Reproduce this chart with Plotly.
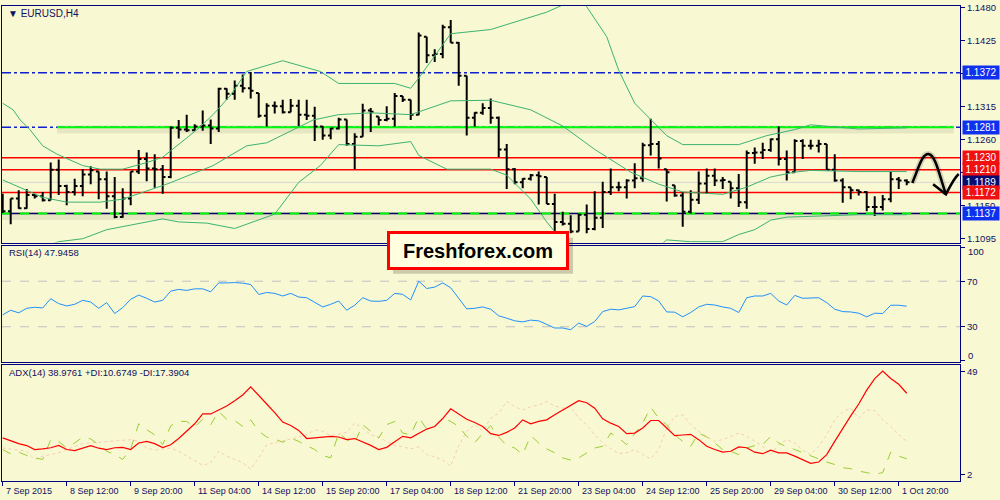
import plotly.graph_objects as go

# ---------------- DATA ----------------
bars = list(range(114))  # H4 bars, 7 Sep 2015 04:00 ... 2 Oct 2015 00:00

opens = [1.1165, 1.1141, 1.1162, 1.1146, 1.1168, 1.1166, 1.1159, 1.1210, 1.1183, 1.1173,
         1.1183, 1.1202, 1.1207, 1.1194, 1.1166, 1.1131, 1.1162, 1.1207, 1.1228, 1.1212,
         1.1211, 1.1198, 1.1280, 1.1277, 1.1276, 1.1282, 1.1284, 1.1279, 1.1345, 1.1337,
         1.1350, 1.1346, 1.1338, 1.1300, 1.1317, 1.1316, 1.1306, 1.1317, 1.1302, 1.1300,
         1.1282, 1.1267, 1.1279, 1.1294, 1.1253, 1.1265, 1.1309, 1.1299, 1.1293, 1.1295,
         1.1333, 1.1327, 1.1302, 1.1432, 1.1401, 1.1403, 1.1448, 1.1422, 1.1367, 1.1297,
         1.1305, 1.1313, 1.1297, 1.1244, 1.1211, 1.1189, 1.1195, 1.1201, 1.1198, 1.1153,
         1.1123, 1.1120, 1.1107, 1.1135, 1.1111, 1.1130, 1.1173, 1.1181, 1.1181, 1.1192,
         1.1196, 1.1251, 1.1253, 1.1211, 1.1184, 1.1167, 1.1140, 1.1160, 1.1187, 1.1200,
         1.1192, 1.1190, 1.1179, 1.1156, 1.1238, 1.1239, 1.1243, 1.1261, 1.1228, 1.1206,
         1.1258, 1.1250, 1.1250, 1.1253, 1.1210, 1.1192, 1.1181, 1.1176, 1.1173, 1.1148,
         1.1148, 1.1161, 1.1194, 1.1192]
highs = [1.1170, 1.1162, 1.1176, 1.1178, 1.1170, 1.1173, 1.1222, 1.1227, 1.1185, 1.1195,
         1.1211, 1.1216, 1.1207, 1.1207, 1.1198, 1.1179, 1.1207, 1.1243, 1.1239, 1.1236,
         1.1218, 1.1282, 1.1293, 1.1302, 1.1286, 1.1309, 1.1294, 1.1347, 1.1346, 1.1359,
         1.1369, 1.1373, 1.1338, 1.1321, 1.1324, 1.1327, 1.1328, 1.1327, 1.1327, 1.1315,
         1.1283, 1.1280, 1.1297, 1.1294, 1.1271, 1.1320, 1.1313, 1.1299, 1.1316, 1.1338,
         1.1333, 1.1327, 1.1439, 1.1432, 1.1411, 1.1452, 1.1460, 1.1423, 1.1367, 1.1306,
         1.1321, 1.1329, 1.1299, 1.1253, 1.1213, 1.1196, 1.1203, 1.1207, 1.1198, 1.1170,
         1.1140, 1.1134, 1.1137, 1.1152, 1.1174, 1.1190, 1.1212, 1.1190, 1.1194, 1.1221,
         1.1255, 1.1295, 1.1258, 1.1211, 1.1184, 1.1173, 1.1176, 1.1207, 1.1212, 1.1212,
         1.1198, 1.1190, 1.1203, 1.1242, 1.1247, 1.1255, 1.1262, 1.1282, 1.1242, 1.1261,
         1.1261, 1.1260, 1.1260, 1.1253, 1.1236, 1.1196, 1.1181, 1.1177, 1.1174, 1.1166,
         1.1168, 1.1207, 1.1198, 1.1194]
lows = [1.1138, 1.1119, 1.1145, 1.1145, 1.1162, 1.1157, 1.1159, 1.1168, 1.1151, 1.1167,
        1.1166, 1.1186, 1.1161, 1.1145, 1.1129, 1.1130, 1.1151, 1.1203, 1.1191, 1.1180,
        1.1170, 1.1196, 1.1262, 1.1273, 1.1275, 1.1275, 1.1253, 1.1273, 1.1327, 1.1327,
        1.1339, 1.1329, 1.1297, 1.1282, 1.1304, 1.1304, 1.1306, 1.1283, 1.1293, 1.1258,
        1.1260, 1.1261, 1.1277, 1.1250, 1.1211, 1.1265, 1.1273, 1.1284, 1.1291, 1.1282,
        1.1323, 1.1293, 1.1301, 1.1388, 1.1390, 1.1396, 1.1422, 1.1350, 1.1267, 1.1282,
        1.1302, 1.1287, 1.1231, 1.1178, 1.1186, 1.1179, 1.1192, 1.1152, 1.1153, 1.1107,
        1.1117, 1.1104, 1.1107, 1.1104, 1.1109, 1.1113, 1.1168, 1.1174, 1.1162, 1.1179,
        1.1190, 1.1234, 1.1212, 1.1157, 1.1165, 1.1115, 1.1137, 1.1153, 1.1170, 1.1183,
        1.1178, 1.1162, 1.1148, 1.1145, 1.1220, 1.1228, 1.1240, 1.1217, 1.1192, 1.1206,
        1.1228, 1.1244, 1.1239, 1.1210, 1.1190, 1.1155, 1.1161, 1.1167, 1.1141, 1.1133,
        1.1142, 1.1156, 1.1178, 1.1184]
closes = [1.1141, 1.1162, 1.1146, 1.1168, 1.1166, 1.1159, 1.1210, 1.1183, 1.1173, 1.1183,
          1.1202, 1.1209, 1.1194, 1.1166, 1.1131, 1.1162, 1.1207, 1.1228, 1.1212, 1.1211,
          1.1198, 1.1280, 1.1277, 1.1276, 1.1282, 1.1284, 1.1279, 1.1345, 1.1337, 1.1350,
          1.1346, 1.1342, 1.1300, 1.1317, 1.1316, 1.1306, 1.1317, 1.1302, 1.1300, 1.1282,
          1.1267, 1.1279, 1.1294, 1.1253, 1.1265, 1.1309, 1.1307, 1.1293, 1.1295, 1.1333,
          1.1327, 1.1302, 1.1434, 1.1401, 1.1403, 1.1448, 1.1422, 1.1367, 1.1297, 1.1305,
          1.1313, 1.1297, 1.1244, 1.1211, 1.1189, 1.1195, 1.1201, 1.1199, 1.1153, 1.1123,
          1.1120, 1.1107, 1.1135, 1.1111, 1.1130, 1.1173, 1.1181, 1.1181, 1.1192, 1.1196,
          1.1251, 1.1253, 1.1229, 1.1206, 1.1167, 1.1140, 1.1160, 1.1187, 1.1200, 1.1192,
          1.1193, 1.1179, 1.1156, 1.1238, 1.1239, 1.1243, 1.1261, 1.1228, 1.1206, 1.1258,
          1.1250, 1.1250, 1.1253, 1.1210, 1.1192, 1.1181, 1.1176, 1.1173, 1.1148, 1.1148,
          1.1161, 1.1194, 1.1192, 1.1189]

# Bollinger band lines read at sample bars
bb_upper_x = [0, 1.3, 2.2, 3.4, 5, 6.8, 10, 12.2, 15, 18, 20, 22.2, 24.3, 26.3, 28.4, 30.5, 35, 39.7, 42, 49,
              51, 52, 56, 61, 65.5, 68, 72, 73, 75.5, 77, 79, 81.5, 83, 85, 87, 92, 95.5, 99, 101, 103, 107, 113]
bb_upper = [1.1321, 1.1310, 1.1293, 1.1277, 1.1250, 1.1236, 1.1217, 1.1211, 1.1211, 1.1222, 1.1231, 1.1255,
            1.1277, 1.1302, 1.1333, 1.1374, 1.1392, 1.1374, 1.1354, 1.1354, 1.1346, 1.1363, 1.1437, 1.1444,
            1.1462, 1.1473, 1.1497, 1.1482, 1.1432, 1.1376, 1.1321, 1.1288, 1.1267, 1.1252, 1.1252, 1.1252,
            1.1267, 1.1277, 1.1285, 1.1283, 1.1278, 1.1280]
bb_mid_x = [0, 5, 8, 12.2, 15, 20.5, 26.3, 30.5, 33, 38.8, 42, 46, 51, 56, 61, 66, 70, 74, 78.5, 82, 85,
            90, 93, 96, 99, 101, 107, 113]
bb_mid = [1.1193, 1.1164, 1.1156, 1.1156, 1.1161, 1.1186, 1.1217, 1.1250, 1.1255, 1.1293, 1.1302, 1.1305,
          1.1302, 1.1325, 1.1326, 1.1310, 1.1283, 1.1244, 1.1206, 1.1186, 1.1173, 1.1169, 1.1181, 1.1198,
          1.1206, 1.1209, 1.1207, 1.1207]
bb_lower_x = [0, 7, 10, 13, 20, 22, 25.5, 29, 34, 37, 39.7, 42, 47, 51, 52, 55.5, 61, 63, 66, 68, 69, 72,
              76, 80, 83, 86, 90, 92, 94, 96, 98, 107, 113]
bb_lower = [1.1060, 1.1090, 1.1095, 1.1110, 1.1128, 1.1123, 1.1121, 1.1112, 1.1136, 1.1189, 1.1217, 1.1252,
            1.1250, 1.1257, 1.1234, 1.1211, 1.1211, 1.1201, 1.1161, 1.1123, 1.1107, 1.1070, 1.1040, 1.1060,
            1.1093, 1.1090, 1.1090, 1.1102, 1.1110, 1.1126, 1.1131, 1.1135, 1.1135]

rsi = [40.4, 44.5, 42.2, 46.2, 47.1, 46.5, 54.6, 50.3, 48.3, 49.7,
       53.2, 51.7, 46.2, 51.2, 41.6, 46.8, 54.1, 57.8, 55.0, 51.7,
       53.2, 61.3, 62.8, 61.9, 63.3, 63.3, 60.7, 68.5, 68.5, 68.8,
       68.3, 67.1, 58.4, 60.1, 59.3, 57.0, 59.3, 56.1, 55.5, 51.2,
       47.4, 49.7, 52.6, 44.5, 48.9, 55.5, 52.6, 52.3, 53.2, 59.3,
       58.4, 53.5, 70.0, 63.6, 64.8, 68.5, 64.2, 55.0, 45.7, 46.2,
       47.4, 45.4, 39.6, 37.5, 35.2, 34.3, 35.8, 35.2, 32.3, 28.9,
       28.9, 27.4, 33.2, 30.3, 34.6, 43.3, 45.4, 44.8, 46.2, 47.7,
       57.0, 56.4, 52.6, 43.0, 42.8, 38.7, 42.5, 47.4, 49.7, 49.1,
       47.4, 46.2, 42.5, 55.5, 57.0, 57.0, 59.3, 52.6, 49.1, 57.5,
       55.0, 55.0, 55.5, 51.2, 45.4, 43.3, 43.0, 41.9, 38.7, 41.9,
       41.6, 48.9, 48.9, 48.0]

adx = [18.7, 17.3, 16.1, 15.2, 13.4, 13.7, 14.2, 15.3, 13.4, 12.9,
       14.2, 15.2, 14.0, 13.4, 14.2, 14.4, 13.4, 16.4, 17.1, 16.1,
       14.3, 15.6, 18.4, 21.6, 25.1, 29.6, 29.6, 31.4, 33.2, 35.6,
       38.2, 41.9, 38.2, 34.1, 30.2, 25.9, 24.3, 22.1, 18.4, 18.7,
       19.1, 19.4, 19.1, 17.9, 18.4, 16.9, 15.3, 13.4, 14.4, 16.9,
       19.4, 18.7, 20.6, 22.7, 23.9, 27.5, 31.9, 29.6, 27.2, 25.7,
       23.9, 20.6, 19.8, 21.2, 23.2, 26.9, 25.1, 26.2, 26.9, 29.2,
       31.4, 33.7, 35.6, 34.7, 32.2, 27.4, 25.4, 23.9, 20.6, 20.9,
       23.2, 26.6, 26.6, 23.2, 19.7, 20.0, 20.3, 17.9, 14.9, 13.4,
       12.2, 12.6, 14.6, 14.2, 12.2, 11.5, 13.1, 11.9, 11.9, 10.4,
       8.9, 7.1, 7.7, 11.1, 17.1, 23.2, 28.7, 34.1, 40.4, 45.7,
       49.1, 45.7, 43.1, 39.0]
plus_di = [13.4, 11.4, 12.2, 10.7, 9.6, 8.9, 17.9, 17.1, 14.1, 16.4,
           19.1, 18.2, 15.6, 12.6, 11.1, 8.9, 13.7, 25.1, 22.4, 20.1,
           15.6, 24.2, 26.2, 26.2, 23.6, 27.2, 24.7, 30.7, 27.2, 26.6,
           23.9, 26.9, 21.7, 19.1, 18.2, 16.7, 18.6, 17.1, 15.2, 13.4,
           10.7, 9.6, 20.9, 17.9, 16.4, 24.7, 21.7, 18.6, 24.7, 26.2,
           20.9, 20.1, 28.1, 22.7, 23.9, 27.7, 26.2, 23.9, 19.4, 16.4,
           20.9, 24.2, 19.1, 15.2, 14.1, 11.1, 19.7, 16.4, 13.7, 11.9,
           9.6, 8.6, 9.6, 11.9, 14.1, 14.9, 20.9, 18.6, 15.6, 20.6,
           25.4, 32.6, 27.7, 24.7, 20.1, 17.1, 14.9, 20.9, 19.1, 16.4,
           13.4, 12.6, 11.1, 14.1, 15.2, 15.6, 19.4, 16.4, 14.6, 13.4,
           11.9, 10.4, 8.9, 7.7, 6.6, 5.1, 4.7, 3.6, 2.9, 2.1,
           2.9, 12.2, 10.4, 9.2]
minus_di = [14.1, 13.7, 13.1, 12.6, 8.9, 10.4, 11.1, 11.9, 13.4, 14.6,
            16.1, 16.4, 16.7, 17.1, 17.1, 17.6, 17.9, 17.1, 14.1, 13.1,
            13.7, 14.1, 12.6, 10.4, 8.1, 6.2, 7.4, 12.6, 10.4, 8.9,
            7.4, 4.4, 9.6, 15.6, 16.4, 17.1, 18.2, 19.1, 20.1, 22.4,
            21.7, 19.7, 20.6, 21.2, 25.4, 23.2, 20.1, 19.1, 17.1, 15.2,
            14.6, 13.7, 14.6, 11.1, 10.1, 8.6, 5.9, 15.2, 21.7, 24.7,
            21.7, 27.7, 29.9, 35.2, 32.9, 31.4, 32.9, 33.7, 35.2, 33.2,
            32.2, 32.9, 27.7, 24.7, 20.1, 16.4, 13.7, 11.6, 11.9, 13.4,
            11.1, 9.2, 13.4, 23.2, 28.4, 29.2, 24.7, 21.7, 19.4, 17.1,
            17.9, 19.4, 20.9, 19.4, 17.1, 14.9, 11.1, 15.6, 17.9, 16.4,
            13.1, 11.1, 14.9, 20.1, 26.9, 30.7, 32.2, 27.7, 31.4, 31.1,
            26.9, 23.9, 20.1, 17.1]

date_tick_bars = [0, 8, 16, 24, 32, 40, 48, 56, 64, 72, 80, 88, 96, 104, 112]
date_tick_labels = ["7 Sep 2015", "8 Sep 12:00", "9 Sep 20:00", "11 Sep 04:00", "14 Sep 12:00",
                    "15 Sep 20:00", "17 Sep 04:00", "18 Sep 12:00", "21 Sep 20:00", "23 Sep 04:00",
                    "24 Sep 12:00", "25 Sep 20:00", "29 Sep 04:00", "30 Sep 12:00", "1 Oct 20:00"]

price_ticks = [1.1095, 1.1150, 1.1205, 1.1260, 1.1315, 1.1370, 1.1425, 1.1480]
price_tick_text = ["1.1095", "1.1150", "", "1.1260", "1.1315", "", "1.1425", "1.1480"]  # others hidden by boxes
rsi_ticks = [0, 30, 70, 100]
rsi_tick_text = ["", "30", "70", ""]
rsi_edge_labels = [(100, "100", -4), (0, "0", 5)]
adx_ticks = [2, 49]

level_blue_top = 1.1372
level_green_top = 1.1281
level_red = [1.1230, 1.1210, 1.1172]
level_bid = 1.1189
level_green_bottom = 1.1137
level_labels = [(1.1372, "#1030F0"), (1.1281, "#1030F0"), (1.1230, "#F01010"), (1.1210, "#F01010"),
                (1.1189, "#0A0A70"), (1.1172, "#F01010"), (1.1137, "#1030F0")]

# hand-drawn forecast arrow (bar index, price)
arrow_curve = [(113.7, 1.1188), (114.6, 1.1218), (115.0, 1.1238), (115.8, 1.1236),
               (116.6, 1.1234), (117.1, 1.1200), (117.9, 1.1169)]
arrow_head = [(116.3, 1.1186), (117.9, 1.1169), (118.4, 1.1182), (118.9, 1.1196), (119.5, 1.1203)]

# ---------------- STYLE ----------------
BG = "#F8F8D2"
NAVY = "#000080"
TXT = "#101060"
FONT = "Liberation Sans"
XR = [-0.0875, 119.66]

fig = go.Figure()

for xs, ys in [(bb_upper_x, bb_upper), (bb_mid_x, bb_mid), (bb_lower_x, bb_lower)]:
    fig.add_trace(go.Scatter(x=xs, y=ys, mode="lines", line=dict(color="#3CB371", width=1),
                             xaxis="x", yaxis="y", hoverinfo="skip", showlegend=False))

fig.add_trace(go.Ohlc(x=bars, open=opens, high=highs, low=lows, close=closes,
                      increasing=dict(line=dict(color="black", width=2)),
                      decreasing=dict(line=dict(color="black", width=2)),
                      tickwidth=0.35, xaxis="x", yaxis="y", hoverinfo="skip", showlegend=False))

fig.add_trace(go.Scatter(x=bars, y=rsi, mode="lines", line=dict(color="#1E90FF", width=1),
                         xaxis="x2", yaxis="y2", hoverinfo="skip", showlegend=False))

fig.add_trace(go.Scatter(x=bars, y=minus_di, mode="lines", line=dict(color="#F5CDB0", width=1, dash="dot"),
                         xaxis="x3", yaxis="y3", hoverinfo="skip", showlegend=False))
fig.add_trace(go.Scatter(x=bars, y=plus_di, mode="lines", line=dict(color="#9ACD32", width=1, dash="dash"),
                         xaxis="x3", yaxis="y3", hoverinfo="skip", showlegend=False))
fig.add_trace(go.Scatter(x=bars, y=adx, mode="lines", line=dict(color="#FF0000", width=1.2),
                         xaxis="x3", yaxis="y3", hoverinfo="skip", showlegend=False))

shapes = []
def hline(y, color, width, dash="solid", x0=0, x1=1, xref="x domain", layer="below"):
    shapes.append(dict(type="line", xref=xref, yref="y", x0=x0, x1=x1, y0=y, y1=y,
                       line=dict(color=color, width=width, dash=dash), layer=layer))

# shadows of the green lines
hline(level_green_top - 0.0004, "rgba(0,0,0,0.07)", 8, x0=6.8, x1=118.9, xref="x")
hline(level_green_bottom - 0.0004, "rgba(0,0,0,0.07)", 8)
hline(level_blue_top, "#1020D0", 1.5, "dashdot")
hline(level_green_top, "#1020D0", 1.5, "dashdot")
hline(level_green_top, "#00FF00", 2, x0=6.8, x1=118.9, xref="x")
for lv in level_red:
    hline(lv, "#FF0000", 1.5)
hline(level_bid, "#D8D8D8", 1)
hline(level_green_bottom, "#000060", 1.5)
hline(level_green_bottom, "#00FF00", 2, "dash")

# RSI levels
for lv in [30, 70]:
    shapes.append(dict(type="line", xref="x2 domain", yref="y2", x0=0, x1=1, y0=lv, y1=lv,
                       line=dict(color="#C0C0C0", width=1, dash="dash"), layer="below"))

curve = "M %f,%f C %f,%f %f,%f %f,%f C %f,%f %f,%f %f,%f" % tuple(v for pt in arrow_curve for v in pt)
head = "M %f,%f L %f,%f C %f,%f %f,%f %f,%f" % tuple(v for pt in arrow_head for v in pt)
for pth, col, w in [(curve, "rgba(0,0,0,0.15)", 6), (curve, "black", 2.5), (head, "black", 2.5)]:
    shapes.append(dict(type="path", xref="x", yref="y", path=pth, line=dict(color=col, width=w),
                       layer="above"))

# Freshforex box shadow
shapes.append(dict(type="rect", xref="paper", yref="paper", x0=0.393, x1=0.573, y0=0.455, y1=0.528,
                   fillcolor="rgba(0,0,0,0.18)", line=dict(width=0), layer="above"))

annotations = []
annotations.append(dict(x=0.006, y=0.981, xref="paper", yref="paper", xanchor="left", yanchor="middle",
                        text="▼ EURUSD,H4", showarrow=False, font=dict(family=FONT, size=10, color=TXT)))
annotations.append(dict(x=0.007, y=0.497, xref="paper", yref="paper", xanchor="left", yanchor="middle",
                        text="RSI(14) 47.9458", showarrow=False, font=dict(family=FONT, size=9.5, color=TXT)))
annotations.append(dict(x=0.007, y=0.255, xref="paper", yref="paper", xanchor="left", yanchor="middle",
                        text="ADX(14) 38.9761 +DI:10.6749 -DI:17.3904", showarrow=False,
                        font=dict(family=FONT, size=9.5, color=TXT)))
for b, lab in zip(date_tick_bars, date_tick_labels):
    annotations.append(dict(x=b, y=0.016, xref="x3", yref="paper", xanchor="left", yanchor="middle",
                            xshift=1, text=lab, showarrow=False, font=dict(family=FONT, size=9, color=TXT)))
for v, lab, shift in rsi_edge_labels:
    annotations.append(dict(x=0.966, y=v, xref="paper", yref="y2", xanchor="left", yanchor="middle",
                            yshift=shift, text=lab, showarrow=False, font=dict(family=FONT, size=9.5, color=TXT)))
for lv, col in level_labels:
    annotations.append(dict(x=0.9615, y=lv, xref="paper", yref="y", xanchor="left", yanchor="middle",
                            text=f"{lv:.4f}", showarrow=False, bgcolor=col, width=34, height=11, borderpad=1,
                            font=dict(family=FONT, size=10, color="white")))
annotations.append(dict(x=0.478, y=0.502, xref="paper", yref="paper", xanchor="center", yanchor="middle",
                        text="<b>Freshforex.com</b>", showarrow=False, bgcolor="#FFFFE0",
                        bordercolor="#FF0000", borderwidth=3, borderpad=3, width=170, height=27,
                        font=dict(family=FONT, size=20, color="black")))

axis_common = dict(showgrid=False, zeroline=False, showline=True, mirror=True, linecolor=NAVY,
                   linewidth=1, fixedrange=True)
ytick_font = dict(family=FONT, size=9.5, color=TXT)

fig.update_layout(
    width=1000, height=500, margin=dict(l=0, r=0, t=0, b=0),
    paper_bgcolor=BG, plot_bgcolor=BG, showlegend=False,
    xaxis=dict(domain=[0.002, 0.96], range=XR, anchor="y", showticklabels=False,
               rangeslider=dict(visible=False), **axis_common),
    yaxis=dict(domain=[0.518, 0.996], range=[1.10885, 1.14833], anchor="x", side="right",
               tickvals=price_ticks, ticktext=price_tick_text, ticks="outside", ticklabeloverflow="allow",
               ticklen=4, tickcolor=NAVY, tickfont=ytick_font, **axis_common),
    xaxis2=dict(domain=[0.002, 0.96], range=XR, anchor="y2", showticklabels=False, **axis_common),
    yaxis2=dict(domain=[0.276, 0.512], range=[-1.3, 101.3], anchor="x2", side="right",
                tickvals=rsi_ticks, ticktext=rsi_tick_text, ticks="outside", ticklen=4, tickcolor=NAVY,
                tickfont=ytick_font, **axis_common),
    xaxis3=dict(domain=[0.002, 0.96], range=XR, anchor="y3", showticklabels=False,
                tickvals=date_tick_bars, ticks="outside", ticklen=4, tickcolor=NAVY, **axis_common),
    yaxis3=dict(domain=[0.036, 0.27], range=[-1.0, 51.7], anchor="x3", side="right",
                tickvals=adx_ticks, ticks="outside", ticklen=4, tickcolor=NAVY, tickfont=ytick_font,
                **axis_common),
    shapes=shapes, annotations=annotations,
)

fig.write_html("out.html", config={"displayModeBar": False},
               post_script="document.body.style.margin='0';document.body.style.overflow='hidden';"
                           "document.documentElement.style.overflow='hidden';")
